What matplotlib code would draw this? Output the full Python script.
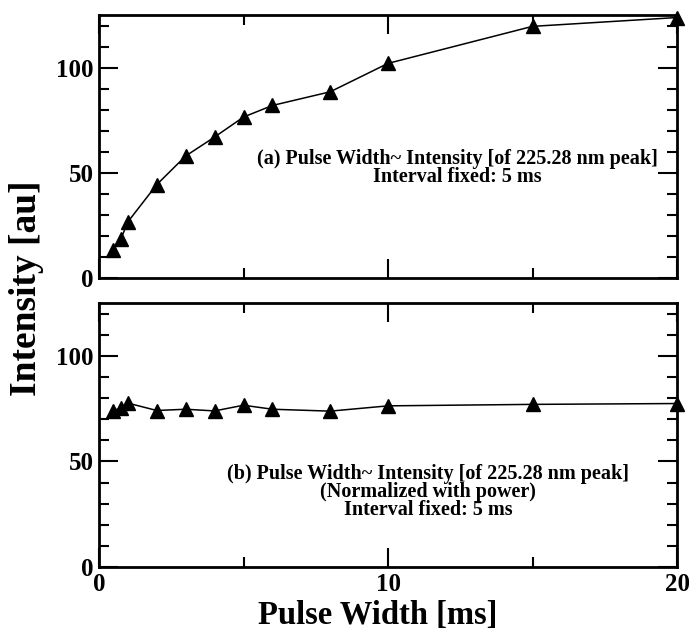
import matplotlib
matplotlib.use("Agg")
import matplotlib.pyplot as plt
from matplotlib.ticker import MultipleLocator

plt.rcParams['font.family'] = ['Liberation Serif', 'DejaVu Serif']
plt.rcParams['font.weight'] = 'bold'

pulse_width = [0.5, 0.75, 1, 2, 3, 4, 5, 6, 8, 10, 15, 20]
intensity_a = [13.4, 18.3, 26.7, 44.4, 58.0, 67.0, 76.5, 82.0, 88.5, 102.0, 119.6, 123.8]
intensity_b = [74.1, 75.2, 77.6, 74.1, 74.7, 73.9, 76.6, 74.7, 73.8, 76.3, 77.0, 77.4]

text_a = "(a) Pulse Width~ Intensity [of 225.28 nm peak]\nInterval fixed: 5 ms"
text_b = "(b) Pulse Width~ Intensity [of 225.28 nm peak]\n(Normalized with power)\nInterval fixed: 5 ms"

W, H = 689, 634
fig = plt.figure(figsize=(W / 100, H / 100), dpi=100)

def px_axes(l, t, r, b):
    return fig.add_axes([l / W, 1 - b / H, (r - l) / W, (b - t) / H])

ax1 = px_axes(99, 15, 677, 278)
ax2 = px_axes(99, 303, 677, 567)

for ax, y, txt, tx, ty in ((ax1, intensity_a, text_a, 457, 168), (ax2, intensity_b, text_b, 428, 492)):
    ax.plot(pulse_width, y, color='black', lw=1.1, marker='^', ms=10,
            markerfacecolor='black', markeredgecolor='black', clip_on=False, zorder=3)
    ax.set_xlim(0, 20)
    ax.set_ylim(0, 125)
    ax.xaxis.set_major_locator(MultipleLocator(10))
    ax.xaxis.set_minor_locator(MultipleLocator(5))
    ax.yaxis.set_major_locator(MultipleLocator(50))
    ax.yaxis.set_minor_locator(MultipleLocator(10))
    ax.tick_params(which='both', direction='in', top=True, right=True, width=1.5,
                   labelsize=18, pad=4)
    ax.tick_params(which='major', length=14)
    ax.tick_params(which='minor', length=7)
    for s in ax.spines.values():
        s.set_linewidth(2)
    for lab in ax.get_xticklabels() + ax.get_yticklabels():
        lab.set_fontweight('bold')
    fig.text(tx / W, 1 - ty / H, txt, ha='center', va='center', fontsize=14.5,
             fontweight='bold', linespacing=0.85)

ax1.tick_params(labelbottom=False)
fig.text(378 / W, 1 - 616 / H, "Pulse Width [ms]", ha='center', va='center',
         fontsize=23.5, fontweight='bold')
fig.text(27 / W, 1 - 288 / H, "Intensity [au]", rotation=90, ha='center', va='center',
         fontsize=27, fontweight='bold')

fig.savefig("out.png", dpi=100)
